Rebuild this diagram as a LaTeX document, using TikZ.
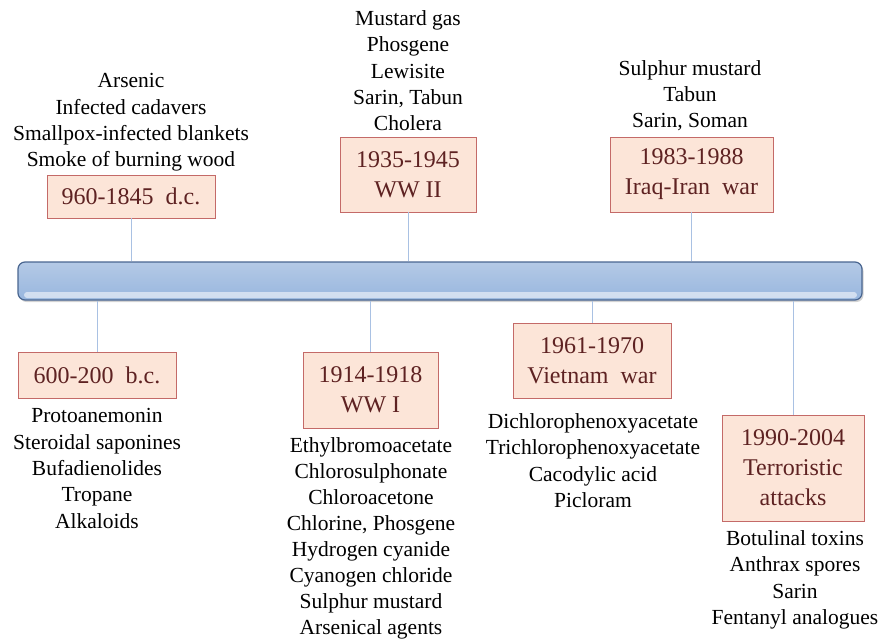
\documentclass[tikz,border=0pt]{standalone}
\usepackage{fontspec}
\setmainfont{Liberation Serif}
\usetikzlibrary{shadows}
\definecolor{boxfill}{HTML}{FCE5D8}
\definecolor{boxline}{HTML}{C46A68}
\definecolor{boxtext}{HTML}{5E2222}
\definecolor{conn}{HTML}{A9C1E3}
\definecolor{bartop}{HTML}{B4C9E6}
\definecolor{barbot}{HTML}{98B6DE}
\definecolor{barline}{HTML}{4A6690}
\tikzset{
  datebox/.style={draw=boxline, line width=0.9pt, fill=boxfill, text=boxtext,
    font=\fontsize{24}{30}\selectfont, align=center, inner sep=0pt},
  listtext/.style={font=\fontsize{21.5}{26.3}\selectfont, align=center, inner sep=0pt, anchor=north},
  connector/.style={draw=conn, line width=1pt}
}
\begin{document}
\begin{tikzpicture}[x=1pt,y=-1pt]
\useasboundingbox (0,0) rectangle (881,641);
% bar
\node[draw=barline, line width=1.2pt, rounded corners=7pt, top color=bartop, bottom color=barbot,
  minimum width=844pt, minimum height=38pt, inner sep=0pt,
  drop shadow={shadow xshift=1.5pt, shadow yshift=-2pt, opacity=0.35}] (bar) at (440,281) {};
\fill[white, opacity=0.55, rounded corners=3pt] (24,292) rectangle (857,298);
% boxes
\node[datebox, minimum width=168pt, minimum height=43pt] (b1) at (131,196.5) {960-1845\ \ d.c.};
\node[datebox, minimum width=136pt, minimum height=75pt] (b2) at (408,174.5) {1935-1945\\WW II};
\node[datebox, minimum width=163pt, minimum height=75pt] (b3) at (691.5,174.5) {1983-1988\\Iraq-Iran\ \ war};
\node[datebox, minimum width=158pt, minimum height=46pt] (b4) at (97,375) {600-200\ \ b.c.};
\node[datebox, minimum width=135pt, minimum height=76pt] (b5) at (370.5,390) {1914-1918\\WW I};
\node[datebox, minimum width=158pt, minimum height=75pt] (b6) at (592,360.5) {1961-1970\\Vietnam\ \ war};
\node[datebox, minimum width=142pt, minimum height=106pt] (b7) at (793,468) {1990-2004\\Terroristic\\attacks};
% connectors
\draw[connector] (b1.south) -- (b1.south |- bar.north);
\draw[connector] (b2.south) -- (b2.south |- bar.north);
\draw[connector] (b3.south) -- (b3.south |- bar.north);
\draw[connector] (b4.north) -- (b4.north |- bar.south);
\draw[connector] (b5.north) -- (b5.north |- bar.south);
\draw[connector] (b6.north) -- (b6.north |- bar.south);
\draw[connector] (b7.north) -- (b7.north |- bar.south);
% lists
\node[listtext] (l1) at (131,73.5) {Arsenic\\Infected cadavers\\Smallpox-infected blankets\\Smoke of burning wood};
\node[listtext] (l2) at (408,10.5) {Mustard gas\\Phosgene\\Lewisite\\Sarin, Tabun\\Cholera};
\node[listtext] (l3) at (690,60) {Sulphur mustard\\Tabun\\Sarin, Soman};
\node[listtext] (l4) at (97,408.5) {Protoanemonin\\Steroidal saponines\\Bufadienolides\\Tropane\\Alkaloids};
\node[listtext, font=\fontsize{21.5}{26}\selectfont] (l5) at (371,437.5) {Ethylbromoacetate\\Chlorosulphonate\\Chloroacetone\\Chlorine, Phosgene\\Hydrogen cyanide\\Cyanogen chloride\\Sulphur mustard\\Arsenical agents};
\node[listtext] (l6) at (593,413.5) {Dichlorophenoxyacetate\\Trichlorophenoxyacetate\\Cacodylic acid\\Picloram};
\node[listtext] (l7) at (795,530.5) {Botulinal toxins\\Anthrax spores\\Sarin\\Fentanyl analogues};
\end{tikzpicture}
\end{document}
